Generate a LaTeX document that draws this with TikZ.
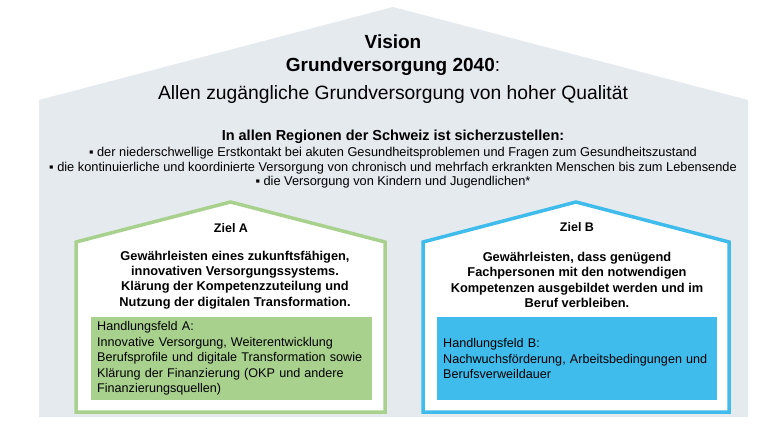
\documentclass[tikz,border=0pt]{standalone}
\usepackage{fontspec}
\setmainfont{Liberation Sans}
\usetikzlibrary{positioning, calc}

\definecolor{visiongray}{HTML}{E5EAEF}
\definecolor{zielgreen}{HTML}{A9D18E}
\definecolor{zielblue}{HTML}{3FBBEC}

\tikzset{
    haus/.style={line width=3.5pt, line join=miter, fill=white},
    feldbox/.style={inner xsep=6pt, minimum width=#1, minimum height=83pt, text width=#1-12pt, align=left, font=\fontsize{12.6}{15.5}\selectfont, anchor=north west},
    zieltext/.style={align=center, font=\bfseries\fontsize{12.8}{15.3}\selectfont}
}

\begin{document}
\begin{tikzpicture}[x=1pt, y=-1pt]
    \useasboundingbox[fill=white] (0,0) rectangle (768,432);
    % grosses Haus: Vision
    \fill[visiongray] (39,417)--(39,100)--(393,7)--(748,100)--(748,417)--cycle;
    \node (vision) at (393,42) {\bfseries\fontsize{19}{22}\selectfont Vision};
    \node (gv) at (393,67) {\fontsize{19}{22}\selectfont\textbf{Grundversorgung 2040}:};
    \node (allen) at (393,95) {\fontsize{19.3}{22}\selectfont Allen zugängliche Grundversorgung von hoher Qualität};
    \node (regionen) at (393,137) {\bfseries\fontsize{14.5}{16}\selectfont In allen Regionen der Schweiz ist sicherzustellen:};
    \node[align=center, font=\fontsize{12.8}{14.6}\selectfont] (auftrag) at (393,168)
        {▪ der niederschwellige Erstkontakt bei akuten Gesundheitsproblemen und Fragen zum Gesundheitszustand\\
         ▪ die kontinuierliche und koordinierte Versorgung von chronisch und mehrfach erkrankten Menschen bis zum Lebensende\\
         ▪ die Versorgung von Kindern und Jugendlichen*};
    % Ziel A
    \draw[haus, draw=zielgreen] (76,412)--(76,242)--(230.5,202)--(385,242)--(385,412)--cycle;
    \node[font=\bfseries\fontsize{12.5}{14}\selectfont] (zielA) at (231,228) {Ziel A};
    \node[zieltext] (textA) at (235,280) {Gewährleisten eines zukunftsfähigen,\\innovativen Versorgungssystems.\\Klärung der Kompetenzzuteilung und\\Nutzung der digitalen Transformation.};
    \node[feldbox=281pt, fill=zielgreen] (feldA) at (91,317) {Handlungsfeld A:\\Innovative Versorgung, Weiterentwicklung\\Berufsprofile und digitale Transformation sowie\\Klärung der Finanzierung (OKP und andere\\Finanzierungsquellen)};
    % Ziel B
    \draw[haus, draw=zielblue] (423,412)--(423,242)--(576,202)--(729,242)--(729,412)--cycle;
    \node[font=\bfseries\fontsize{12.5}{14}\selectfont] (zielB) at (577,227) {Ziel B};
    \node[zieltext] (textB) at (577,280) {Gewährleisten, dass genügend\\Fachpersonen mit den notwendigen\\Kompetenzen ausgebildet werden und im\\Beruf verbleiben.};
    \node[feldbox=280pt, fill=zielblue] (feldB) at (437,317) {Handlungsfeld B:\\Nachwuchsförderung, Arbeitsbedingungen und\\Berufsverweildauer};
\end{tikzpicture}
\end{document}
